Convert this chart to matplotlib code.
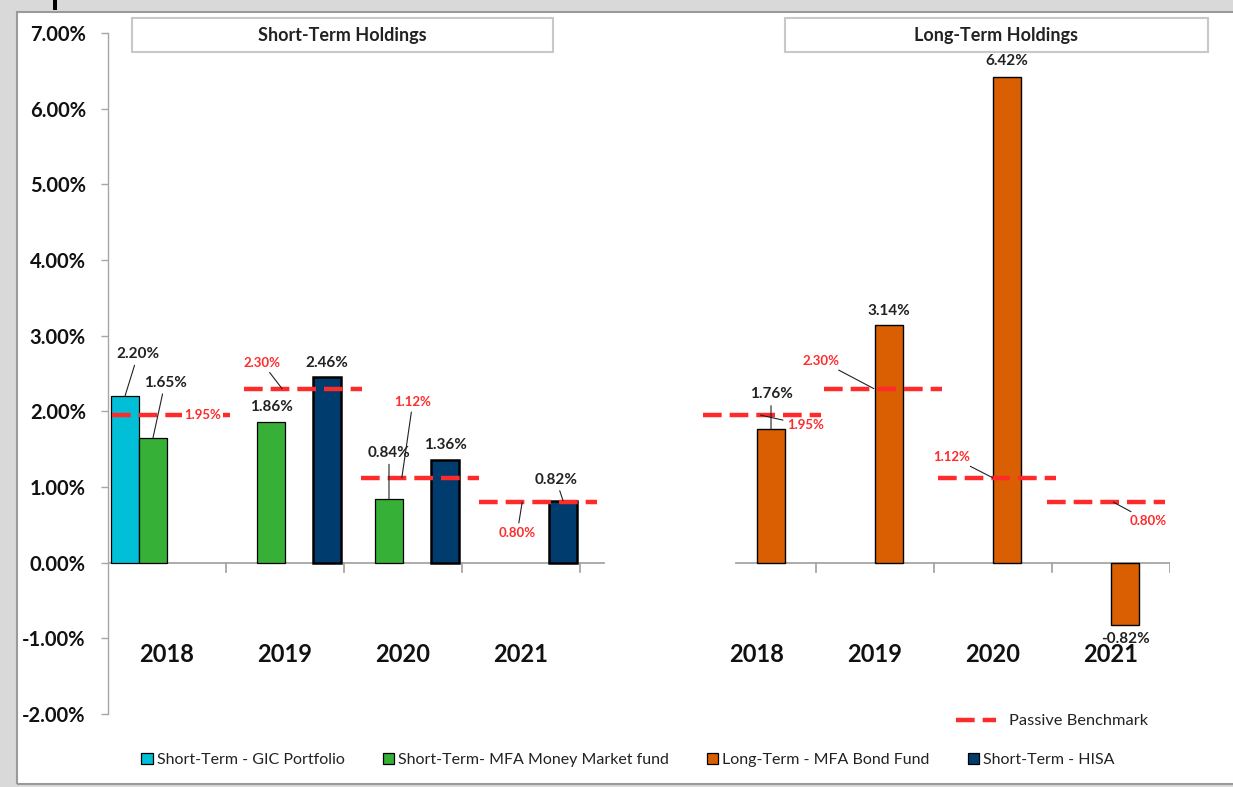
import numpy as np
import matplotlib
matplotlib.use("Agg")
import matplotlib.pyplot as plt
from matplotlib.patches import Rectangle, Patch
from matplotlib.lines import Line2D
from matplotlib.ticker import FuncFormatter

plt.rcParams['font.family'] = ['Lato', 'DejaVu Sans']

# ---- data (percent) ----
years = ['2018', '2019', '2020', '2021']
gic_portfolio = [2.20, None, None, None]
money_market = [1.65, 1.86, 0.84, None]
hisa = [None, 2.46, 1.36, 0.82]
bond_fund = [1.76, 3.14, 6.42, -0.82]
benchmark = [1.95, 2.30, 1.12, 0.80]

series_names = ['Short-Term - GIC Portfolio', 'Short-Term- MFA Money Market fund',
                'Long-Term - MFA Bond Fund', 'Short-Term - HISA']
colors = ['#00bfd6', '#36b037', '#d95f02', '#003d6e']
bench_color = '#ff2b2b'

W, H = 1233, 787
fig = plt.figure(figsize=(W / 100, H / 100), dpi=100)

# grey frame around the chart area (spreadsheet look)
def fig_rect(x0, y0, x1, y1, **kw):
    r = Rectangle((x0 / W, 1 - y1 / H), (x1 - x0) / W, (y1 - y0) / H,
                  transform=fig.transFigure, **kw)
    fig.patches.append(r)
    return r

fig_rect(0, 0, W, 11, fc='#d9d9d9', ec='none')
fig_rect(0, 0, 16, H, fc='#d9d9d9', ec='none')
fig_rect(0, 784, W, H, fc='#d9d9d9', ec='none')
fig_rect(16.5, 11.5, W + 5, 784, fc='none', ec='#9a9a9a', lw=1.5)
fig_rect(53, 0, 57, 10, fc='black', ec='none')   # tail of a cut-off title glyph

ax = fig.add_axes([108 / W, 1 - 714 / H, (1170 - 108) / W, (714 - 33) / H])
ax.set_xlim(0, 9)
ax.set_ylim(-2, 7)
ax.patch.set_alpha(0)

left_idx = np.arange(4)          # short-term categories
right_idx = np.arange(4) + 5     # long-term categories (one empty slot between)
bw = 0.2375

def slot_x(idx, k):
    return idx + 0.025 + bw * (k + 0.5)

def draw(vals, idx, k, lw):
    xs = [slot_x(i, k) for i, v in zip(idx, vals) if v is not None]
    hs = [v for v in vals if v is not None]
    ax.bar(xs, hs, width=bw, color=colors[k], edgecolor='black', linewidth=lw, zorder=2)

draw(gic_portfolio, left_idx, 0, 0.9)
draw(money_market, left_idx, 1, 0.9)
draw(bond_fund, right_idx, 2, 1.0)
draw(hisa, left_idx, 3, 1.8)

# x axis line and category ticks
ax.plot([0, 4.2], [0, 0], color='#a6a6a6', lw=1.3, zorder=1)
ax.plot([5.32, 9], [0, 0], color='#a6a6a6', lw=1.3, zorder=1)
for b in [1, 2, 3, 4, 6, 7, 8, 9]:
    ax.plot([b, b], [0, -0.12], color='#a6a6a6', lw=1.3, zorder=1)

for i, y in enumerate(years):
    for idx in (left_idx, right_idx):
        ax.text(idx[i] + 0.5, -1.22, y, ha='center', va='center',
                fontsize=17, fontweight='bold', color='#111111')

# y axis
ax.set_yticks(np.arange(-2, 8, 1))
ax.yaxis.set_major_formatter(FuncFormatter(lambda v, p: f'{v:.2f}%'))
ax.set_xticks([])
for s in ['top', 'right', 'bottom']:
    ax.spines[s].set_visible(False)
ax.spines['left'].set_color('#a6a6a6')
ax.spines['left'].set_linewidth(1.0)
ax.tick_params(axis='y', direction='out', length=5, width=1.0, color='#a6a6a6',
               pad=11, labelsize=14.5)
for t in ax.get_yticklabels():
    t.set_fontweight('bold')
    t.set_color('#111111')

# passive benchmark segments (start offset within category)
bench_left_start = [0.03, 0.15, 0.14, 0.14]
bench_right_start = [0.04, 0.07, 0.03, -0.04]
for starts, idx in ((bench_left_start, left_idx), (bench_right_start, right_idx)):
    for s, i, v in zip(starts, idx, benchmark):
        ax.plot([i + s, i + s + 1.0], [v, v], color=bench_color, lw=3.2,
                ls=(0, (4.2, 1.8)), dash_capstyle='butt', zorder=3)

# bar value labels: (series, idx, k, offset px, leader)
def px(dx, dy):
    return (dx * 0.72, dy * 0.72)

bar_labels = [
    (gic_portfolio, left_idx, 0, [(13, 42)], [True]),
    (money_market, left_idx, 1, [(12, 55), (0, 15), (0, 46)], [True, False, True]),
    (hisa, left_idx, 3, [(0, 14), (0, 15), (-7, 21)], [False, False, True]),
    (bond_fund, right_idx, 2, [(0, 35), (0, 14), (0, 16), (0, -14)], [True, False, False, False]),
]
for vals, idx, k, offs, leads in bar_labels:
    pts = [(slot_x(i, k), v) for i, v in zip(idx, vals) if v is not None]
    for (x, v), off, lead in zip(pts, offs, leads):
        ax.annotate(f'{v:.2f}%', xy=(x, v), xytext=px(*off), textcoords='offset points',
                    ha='center', va='center', fontsize=11, fontweight='bold', color='#222222',
                    arrowprops=dict(arrowstyle='-', color='#222222', lw=0.8,
                                    shrinkA=1, shrinkB=0) if lead else None,
                    zorder=5)

# benchmark labels: anchor position within category, offset px, leader
bench_label_left = [(0.80, (0, 0), False), (0.475, (-20, 26), True),
                    (0.49, (11, 76), True), (0.51, (-5, -31), True)]
bench_label_right = [(0.53, (45, -10), True), (0.49, (-53, 28), True),
                     (0.50, (-41, 21), True), (0.52, (35, -19), True)]
for spec, idx in ((bench_label_left, left_idx), (bench_label_right, right_idx)):
    for (pos, off, lead), i, v in zip(spec, idx, benchmark):
        ax.annotate(f'{v:.2f}%', xy=(i + pos, v), xytext=px(*off), textcoords='offset points',
                    ha='center', va='center', fontsize=9.5, fontweight='bold', color=bench_color,
                    bbox=dict(boxstyle='square,pad=0.15', fc='white', ec='none') if not lead else None,
                    arrowprops=dict(arrowstyle='-', color='#222222', lw=0.8,
                                    shrinkA=1, shrinkB=0) if lead else None,
                    zorder=6)

# section title boxes
for x0, x1, title in ((132, 553, 'Short-Term Holdings'), (785, 1208, 'Long-Term Holdings')):
    fig_rect(x0, 18, x1, 52, fc='white', ec='#c8c8c8', lw=1.5)
    fig.text((x0 + x1) / 2 / W, 1 - 35 / H, title, ha='center', va='center',
             fontsize=13, fontweight='bold', color='#222222')

# legends
handles = [Patch(facecolor=c, edgecolor='black', linewidth=0.9) for c in colors]
fig.legend(handles, series_names, ncol=4,
           loc='center', bbox_to_anchor=(628 / W, 1 - 760 / H), frameon=False,
           fontsize=11.5, handlelength=0.7, handleheight=0.7, handletextpad=0.25,
           columnspacing=2.4, labelcolor='#222222')
fig.legend([Line2D([], [], color=bench_color, lw=3.2, ls=(0, (4.2, 1.8)), dash_capstyle='butt')],
           ['Passive Benchmark'], loc='center', bbox_to_anchor=(1052 / W, 1 - 721 / H),
           frameon=False, fontsize=11.8, handlelength=2.4, handletextpad=0.8,
           labelcolor='#222222')

fig.savefig('out.png', dpi=100)
